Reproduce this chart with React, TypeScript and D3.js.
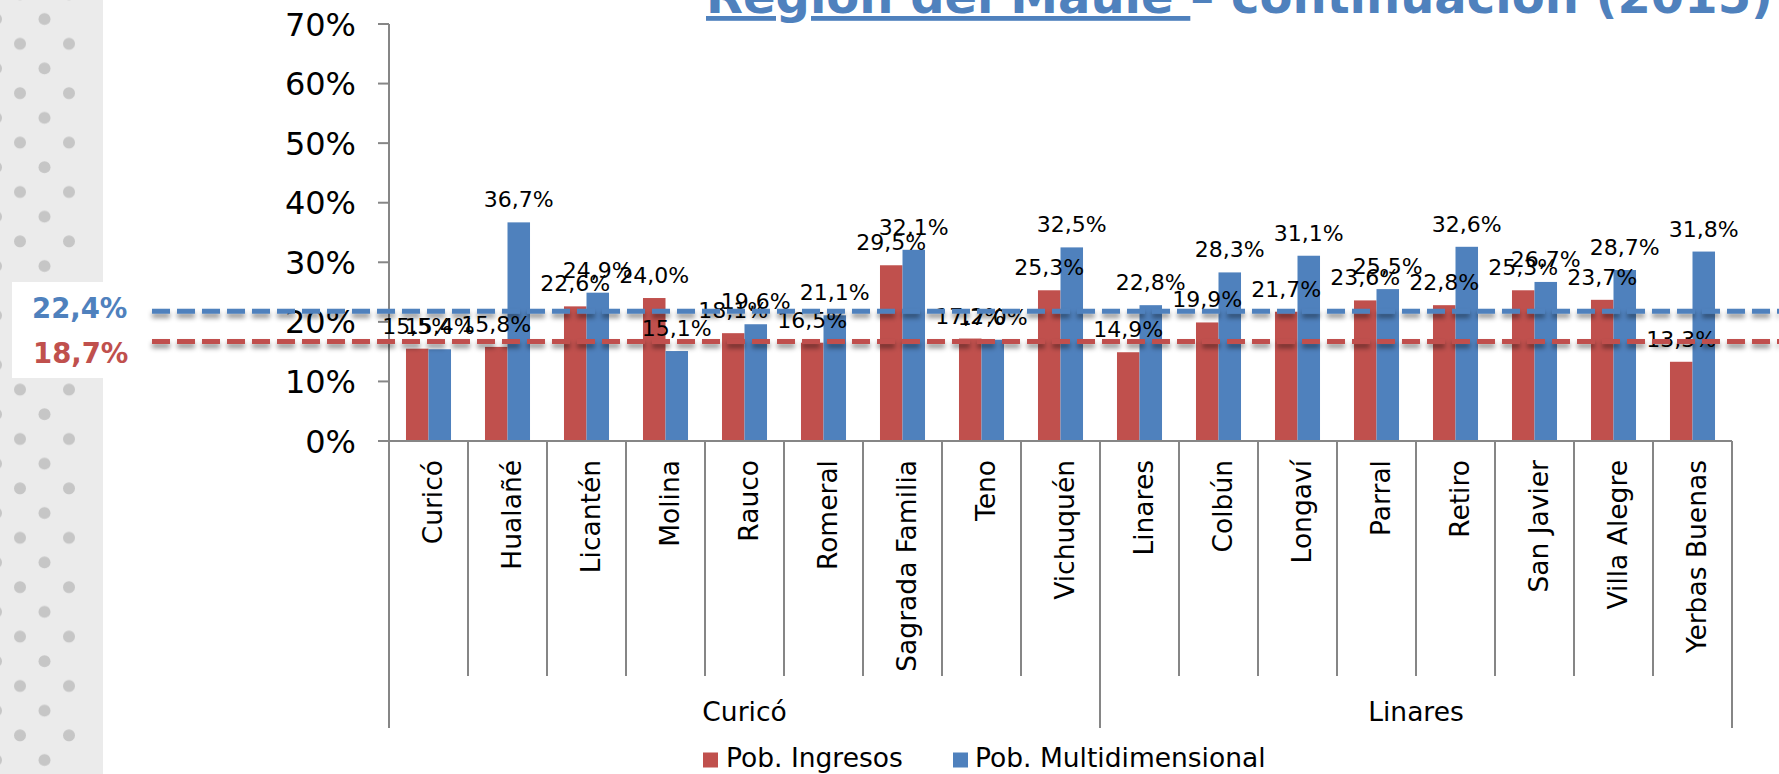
import React from "react";
import * as d3 from "d3";

const categories = ["Curicó","Hualañé","Licantén","Molina","Rauco","Romeral","Sagrada Familia","Teno","Vichuquén","Linares","Colbún","Longaví","Parral","Retiro","San Javier","Villa Alegre","Yerbas Buenas"];
const groupNames = ["Curicó", "Linares"];
const groupSizes = [9, 8];
const ingresos = [15.5,15.8,22.6,24.0,18.1,16.5,29.5,17.2,25.3,14.9,19.9,21.7,23.6,22.8,25.3,23.7,13.3];
const multidim = [15.4,36.7,24.9,15.1,19.6,21.1,32.1,17.0,32.5,22.8,28.3,31.1,25.5,32.6,26.7,28.7,31.8];
const yTicks = [0,10,20,30,40,50,60,70];
const seriesNames = ["Pob. Ingresos", "Pob. Multidimensional"];
const refLabels = ["22,4%", "18,7%"];
const refLinePos = [21.8, 16.7];

const W = 1779, H = 774;
const RED = "#C0504D", BLUE = "#4F81BD";
const FONT = "'DejaVu Sans', Verdana, sans-serif";
const fmt = (v: number) => v.toFixed(1).replace(".", ",") + "%";

export default function App() {
  const x = d3.scaleBand<string>().domain(categories).range([389, 1732]).paddingInner(0).paddingOuter(0);
  const y = d3.scaleLinear().domain([0, 70]).range([441, 24]);
  const bw = x.bandwidth();
  const barW = bw * 0.285;
  const off = (bw - 2 * barW) / 2;

  const groupBounds: { name: string; x0: number; x1: number }[] = [];
  let idx = 0;
  groupNames.forEach((g, i) => {
    const x0 = x(categories[idx])!;
    const x1 = x(categories[idx + groupSizes[i] - 1])! + bw;
    groupBounds.push({ name: g, x0, x1 });
    idx += groupSizes[i];
  });

  return (
    <svg width={W} height={H} style={{ position: "absolute", left: 0, top: 0, background: "#fff" }} fontFamily={FONT}>
      <defs>
        <pattern id="dots" patternUnits="userSpaceOnUse" x={0} y={0} width={200} height={49.4}>
          <rect width={200} height={49.4} fill="#EBEBEB" />
          <circle cx={-4} cy={19} r={6} fill="#C6C6C6" />
          <circle cx={44.5} cy={19} r={6} fill="#C6C6C6" />
          <circle cx={20} cy={43.7} r={6} fill="#C6C6C6" />
          <circle cx={69} cy={43.7} r={6} fill="#C6C6C6" />
          <circle cx={20} cy={-5.7} r={6} fill="#C6C6C6" />
          <circle cx={69} cy={-5.7} r={6} fill="#C6C6C6" />
        </pattern>
        <filter id="shadow" filterUnits="userSpaceOnUse" x={0} y={0} width={W} height={H}>
          <feDropShadow dx={0} dy={4} stdDeviation={2.5} floodColor="#000" floodOpacity={0.45} />
        </filter>
      </defs>
      <rect x={0} y={0} width={W} height={H} fill="#fff" />
      <rect x={0} y={0} width={103} height={H} fill="url(#dots)" />
      <rect x={12} y={282} width={91} height={96} fill="#fff" />

      {/* title */}
      <text x={706} y={13} fontSize={48} fontWeight="bold" fill={BLUE}>
        <tspan textDecoration="underline">Región del Maule </tspan>
        <tspan>– continuación (2015)</tspan>
      </text>

      {/* y axis */}
      <line x1={389} x2={389} y1={y(70)} y2={y(0)} stroke="#868686" strokeWidth={2} />
      {yTicks.map((t) => (
        <g key={t}>
          <line x1={378} x2={389} y1={y(t)} y2={y(t)} stroke="#868686" strokeWidth={2} />
          <text x={356} y={y(t)} dy="0.36em" textAnchor="end" fontSize={32} fill="#000">{t}%</text>
        </g>
      ))}

      {/* bars */}
      {categories.map((c, i) => {
        const bx = x(c)! + off;
        return (
          <g key={c}>
            <rect x={bx} y={y(ingresos[i])} width={barW} height={y(0) - y(ingresos[i])} fill={RED} />
            <rect x={bx + barW} y={y(multidim[i])} width={barW} height={y(0) - y(multidim[i])} fill={BLUE} />
          </g>
        );
      })}

      {/* x axis */}
      <line x1={389} x2={1732} y1={y(0)} y2={y(0)} stroke="#868686" strokeWidth={2} />
      {categories.map((c, i) => (
        i > 0 ? <line key={"t" + c} x1={x(c)!} x2={x(c)!} y1={y(0)} y2={676} stroke="#868686" strokeWidth={2} /> : null
      ))}
      {groupBounds.map((g) => (
        <line key={"g0" + g.name} x1={g.x0} x2={g.x0} y1={y(0)} y2={728} stroke="#868686" strokeWidth={2} />
      ))}
      <line x1={groupBounds[groupBounds.length - 1].x1} x2={groupBounds[groupBounds.length - 1].x1} y1={y(0)} y2={728} stroke="#868686" strokeWidth={2} />

      {categories.map((c) => (
        <text key={"l" + c} transform={`translate(${x(c)! + bw / 2},460) rotate(-90)`} dy="0.5em" textAnchor="end" fontSize={26.5} fill="#000">{c}</text>
      ))}
      {groupBounds.map((g) => (
        <text key={"gl" + g.name} x={(g.x0 + g.x1) / 2} y={721} textAnchor="middle" fontSize={26.5} fill="#000">{g.name}</text>
      ))}

      {/* data labels */}
      {categories.map((c, i) => {
        const bx = x(c)! + off;
        return (
          <g key={"v" + c} fontSize={22} fill="#000" textAnchor="middle">
            <text x={bx + barW / 2} y={y(ingresos[i]) - 15}>{fmt(ingresos[i])}</text>
            <text x={bx + barW * 1.5} y={y(multidim[i]) - 15}>{fmt(multidim[i])}</text>
          </g>
        );
      })}

      {/* reference lines */}
      {[BLUE, RED].map((col, i) => (
        <line key={"r" + i} x1={152} x2={W} y1={y(refLinePos[i])} y2={y(refLinePos[i])} stroke={col} strokeWidth={5} strokeDasharray="18 7" filter="url(#shadow)" />
      ))}
      <text x={32} y={318} fontSize={27.5} fontWeight="bold" fill={BLUE}>{refLabels[0]}</text>
      <text x={33} y={363} fontSize={27.5} fontWeight="bold" fill={RED}>{refLabels[1]}</text>

      {/* legend */}
      <rect x={703} y={752.5} width={15} height={15} fill={RED} />
      <text x={726} y={767} fontSize={26.5} fill="#000">{seriesNames[0]}</text>
      <rect x={953} y={752.5} width={15} height={15} fill={BLUE} />
      <text x={975} y={767} fontSize={26.5} fill="#000">{seriesNames[1]}</text>
    </svg>
  );
}
